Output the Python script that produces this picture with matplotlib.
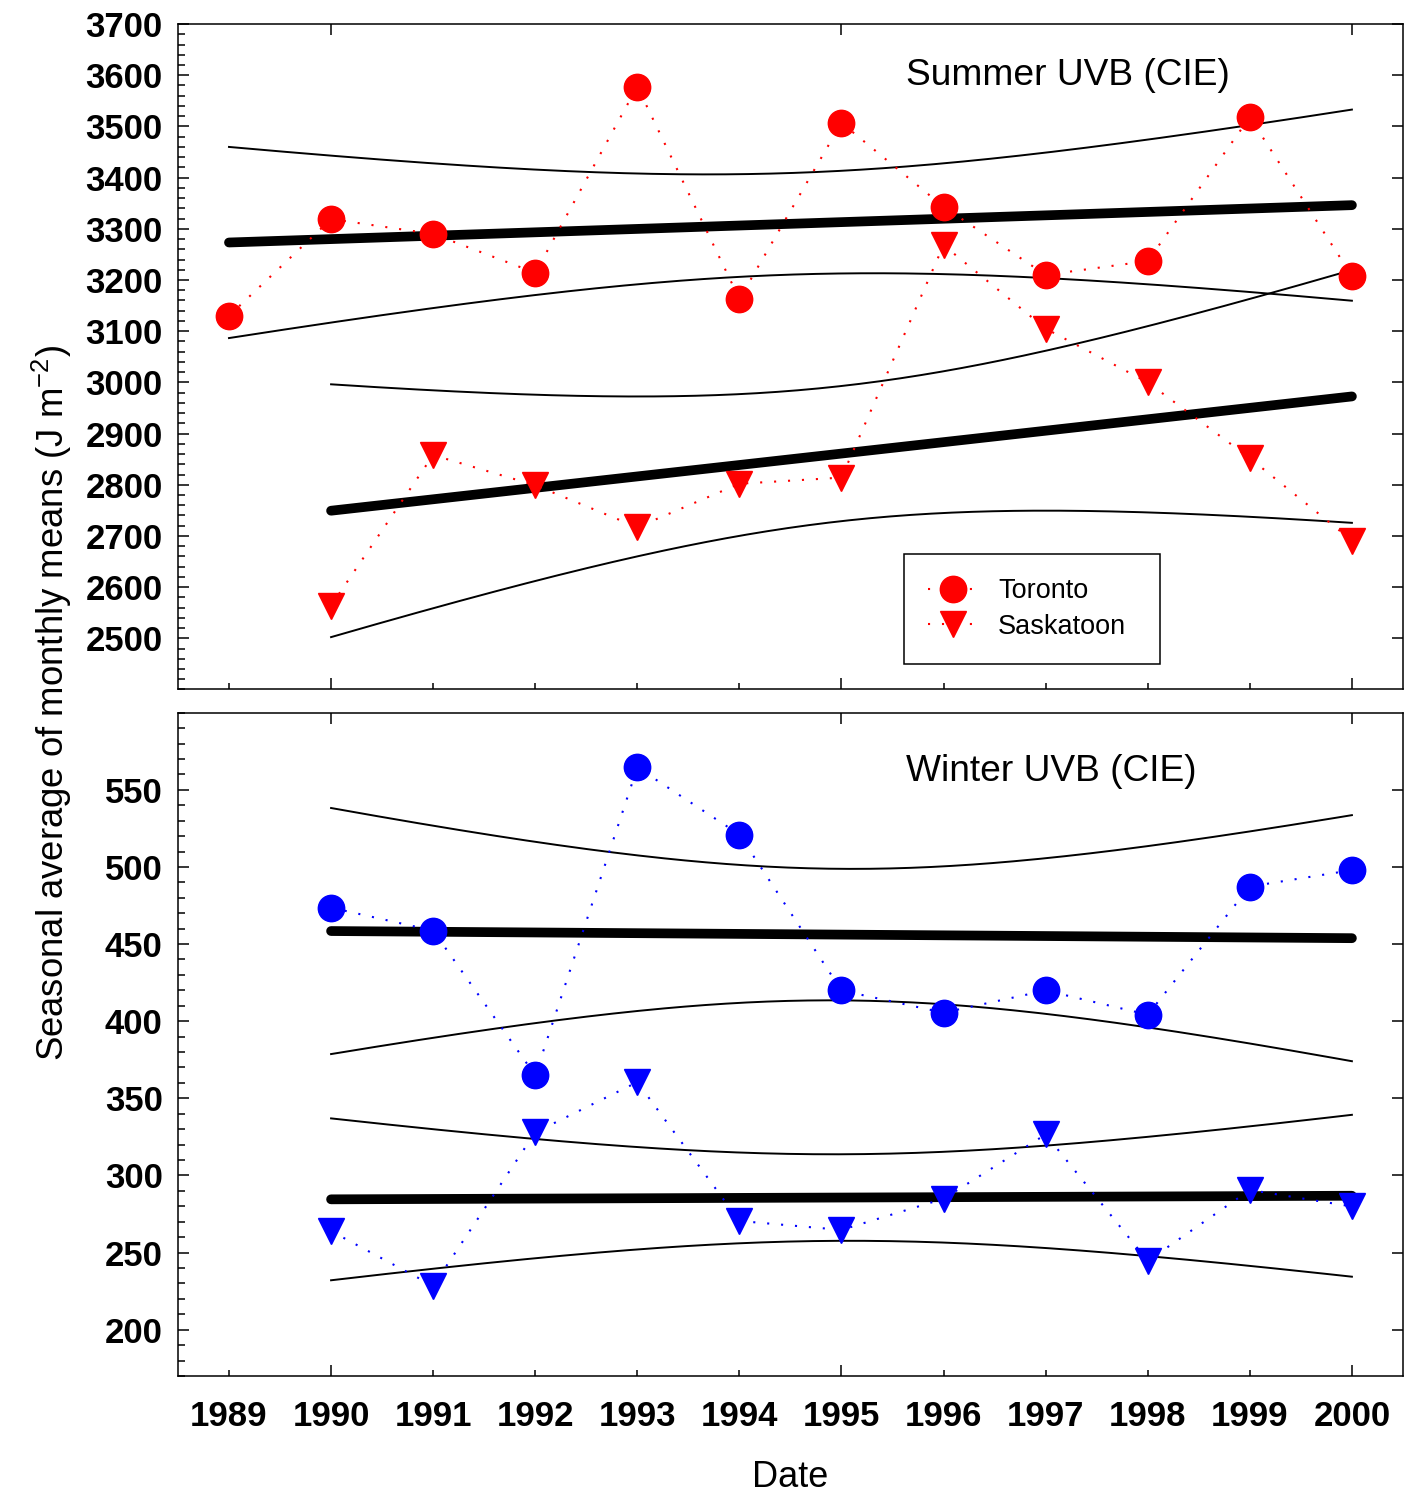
"""
Seasonal UVB (CIE) averages at Toronto and Saskatoon, 1989-2000,
with linear trends and 95% confidence bands.
"""
import matplotlib

matplotlib.use("Agg")
import matplotlib.pyplot as plt
import numpy as np
from matplotlib.ticker import FixedLocator, FormatStrFormatter, MultipleLocator

plt.rcParams["font.family"] = ["Liberation Sans", "DejaVu Sans"]
plt.rcParams["mathtext.fontset"] = "custom"
plt.rcParams["mathtext.rm"] = "Liberation Sans"
plt.rcParams["mathtext.it"] = "Liberation Sans:italic"

years_toronto_summer = list(range(1989, 2001))
years = list(range(1990, 2001))

toronto_summer = [3130, 3319, 3290, 3214, 3578, 3163, 3507, 3343, 3210, 3237, 3518, 3208]
saskatoon_summer = [2564, 2858, 2799, 2717, 2802, 2814, 3268, 3105, 3000, 2852, 2691]
toronto_winter = [473.6, 458.7, 364.9, 564.5, 521.0, 419.9, 405.5, 419.9, 404.2, 487.3, 497.9]
saskatoon_winter = [263.9, 228.4, 327.9, 360.5, 270.5, 264.7, 284.9, 326.6, 244.6, 290.6, 279.9]

summer_yticks = list(range(2500, 3701, 100))
winter_yticks = list(range(200, 551, 50))

# two-sided 95% Student t for df = n - 2
T95 = {10: 2.228, 9: 2.262}

DOTS = (0, (1, 5.7))


def _fit_with_band(x, y):
    x = np.asarray(x, dtype=float)
    y = np.asarray(y, dtype=float)
    n = len(x)
    slope, intercept = np.polyfit(x, y, 1)
    resid = y - (slope * x + intercept)
    s = np.sqrt(np.sum(resid ** 2) / (n - 2))
    sxx = np.sum((x - x.mean()) ** 2)
    xs = np.linspace(x.min(), x.max(), 200)
    fit = slope * xs + intercept
    half = T95[n - 2] * s * np.sqrt(1.0 / n + (xs - x.mean()) ** 2 / sxx)
    return xs, fit, fit - half, fit + half


def _draw_station(ax, x, y, color, marker, label):
    xs, fit, lo, hi = _fit_with_band(x, y)
    ax.plot(xs, fit, color="black", lw=7, solid_capstyle="round", zorder=2)
    ax.plot(xs, lo, color="black", lw=1.4, zorder=2)
    ax.plot(xs, hi, color="black", lw=1.4, zorder=2)
    ax.plot(x, y, color=color, ls=DOTS, lw=1.5, marker=marker, ms=19,
            mec=color, mfc=color, label=label, zorder=3)


def _style_axis(ax, yticks, ymin, ymax, yminor):
    ax.set_xlim(1988.5, 2000.5)
    ax.set_ylim(ymin, ymax)
    ax.xaxis.set_major_locator(MultipleLocator(5))
    ax.xaxis.set_minor_locator(MultipleLocator(1))
    ax.yaxis.set_major_locator(FixedLocator(yticks))
    ax.yaxis.set_minor_locator(MultipleLocator(yminor))
    ax.tick_params(which="major", direction="in", length=8, width=1.1,
                   top=True, right=True, labelsize=25)
    ax.tick_params(axis="x", which="major", pad=17)
    ax.tick_params(axis="y", which="major", pad=11)
    ax.tick_params(axis="x", which="minor", direction="in", length=4, width=1.1,
                   top=False, labelsize=25, pad=17)
    ax.tick_params(axis="y", which="minor", direction="in", length=5, width=1.1,
                   right=False)
    for lab in ax.get_yticklabels():
        lab.set_fontweight("bold")
    for sp in ax.spines.values():
        sp.set_linewidth(1.1)


fig = plt.figure(figsize=(14.1, 14.95), dpi=100)
ax_top = fig.add_axes([0.1262, 0.5388, 0.8688, 0.4451])
ax_bot = fig.add_axes([0.1262, 0.0796, 0.8688, 0.4437])

# summer
_draw_station(ax_top, years_toronto_summer, toronto_summer, "#ff0000", "o", "Toronto")
_draw_station(ax_top, years, saskatoon_summer, "#ff0000", "v", "Saskatoon")
_style_axis(ax_top, summer_yticks, 2400, 3700, 20)
ax_top.tick_params(axis="x", which="both", labelbottom=False)
ax_top.text(0.594, 0.922, "Summer UVB (CIE)", transform=ax_top.transAxes,
            fontsize=26.7, ha="left", va="center")
leg = ax_top.legend(loc="upper left", bbox_to_anchor=(0.5927, 0.0428, 0.209, 0.1608),
                    mode="expand", borderaxespad=0,
                    fontsize=19.5, handlelength=1.8, handletextpad=0.77, labelspacing=0.35,
                    borderpad=0.9, fancybox=False, framealpha=1, edgecolor="black")
leg.get_frame().set_linewidth(1.1)

# winter
_draw_station(ax_bot, years, toronto_winter, "#0000ff", "o", "Toronto")
_draw_station(ax_bot, years, saskatoon_winter, "#0000ff", "v", "Saskatoon")
_style_axis(ax_bot, winter_yticks, 170, 600, 10)
ax_bot.xaxis.set_major_formatter(FormatStrFormatter("%d"))
ax_bot.xaxis.set_minor_formatter(FormatStrFormatter("%d"))
for lab in ax_bot.get_xticklabels(which="both"):
    lab.set_fontweight("bold")
ax_bot.text(0.594, 0.912, "Winter UVB (CIE)", transform=ax_bot.transAxes,
            fontsize=26.7, ha="left", va="center")
ax_bot.set_xlabel("Date", fontsize=26, labelpad=20)

fig.text(0.037, 1 - 703 / 1495, "Seasonal average of monthly means (J m$^{-2}$)",
         rotation=90, fontsize=26.3, ha="center", va="center")

fig.savefig("out.png", dpi=100)
plt.close(fig)
